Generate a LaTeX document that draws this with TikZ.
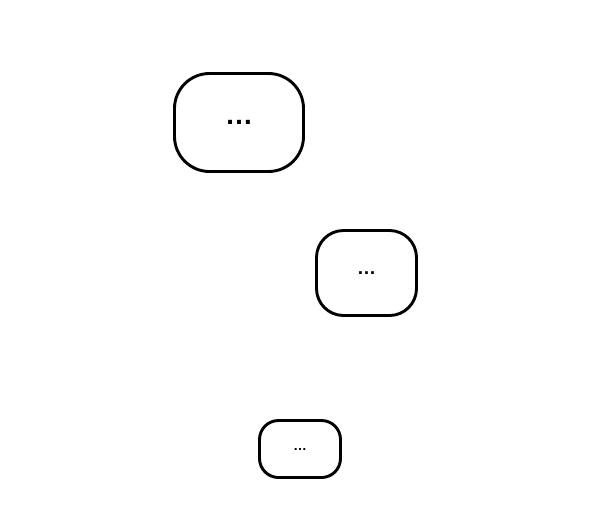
\documentclass[tikz,border=0pt]{standalone}
\usepackage{fontspec}
\setmainfont{Liberation Sans}
\usepackage{tikz}

\begin{document}
\begin{tikzpicture}[x=1pt,y=-1pt,
    box/.style={draw,line width=2.9pt,inner sep=0pt,font=\bfseries}]
   \useasboundingbox (0,0) rectangle (600,531);
   \node (box1) at (239,122.5) [box,rounded corners=35pt,minimum width=129pt,minimum height=98pt] {\fontsize{28}{30}\selectfont …};
   \node (box2) at (366.5,273) [box,rounded corners=27pt,minimum width=100pt,minimum height=85pt] {\fontsize{19}{21}\selectfont …};
   \node (box3) at (300,449) [box,rounded corners=19pt,minimum width=81pt,minimum height=57pt] {\fontsize{13.5}{15}\selectfont …};
  \end{tikzpicture}
\end{document}
